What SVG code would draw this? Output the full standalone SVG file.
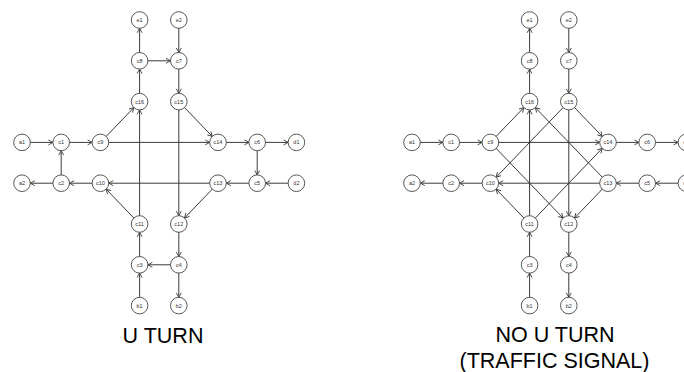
<svg xmlns="http://www.w3.org/2000/svg" width="684" height="372" viewBox="0 0 684 372">
<style>
.e{stroke:#3a3a3a;stroke-width:1;fill:none;marker-end:url(#ah)}
.n circle{fill:#fff;stroke:#444;stroke-width:0.9}
.n text{font-family:"Liberation Sans",Arial,sans-serif;font-size:5.5px;fill:#333;text-anchor:middle}
.cap{font-family:"Liberation Sans",Arial,sans-serif;font-size:21.5px;fill:#000;text-anchor:middle}
</style>
<defs>
<marker id="ah" markerUnits="userSpaceOnUse" markerWidth="20" markerHeight="20" refX="12.8" refY="2.5" orient="auto" overflow="visible">
<path d="M0,0 L4.5,2.5 L0,5" fill="none" stroke="#3a3a3a" stroke-width="0.9"/>
</marker>
</defs>
<rect width="684" height="372" fill="#fff"/>
<g id="connectors">
<!-- left -->
<line class="e" x1="178.8" y1="20" x2="178.8" y2="60.8"/>
<line class="e" x1="139.6" y1="60.8" x2="139.6" y2="20"/>
<line class="e" x1="139.6" y1="60.8" x2="178.8" y2="60.8"/>
<line class="e" x1="178.8" y1="60.8" x2="178.8" y2="101.6"/>
<line class="e" x1="139.6" y1="101.6" x2="139.6" y2="60.8"/>
<line class="e" x1="100.4" y1="142.4" x2="139.6" y2="101.6"/>
<line class="e" x1="139.6" y1="224" x2="139.6" y2="101.6"/>
<line class="e" x1="178.8" y1="101.6" x2="218" y2="142.4"/>
<line class="e" x1="178.8" y1="101.6" x2="178.8" y2="224"/>
<line class="e" x1="22" y1="142.4" x2="61.2" y2="142.4"/>
<line class="e" x1="61.2" y1="142.4" x2="100.4" y2="142.4"/>
<line class="e" x1="100.4" y1="142.4" x2="218" y2="142.4"/>
<line class="e" x1="218" y1="142.4" x2="257.2" y2="142.4"/>
<line class="e" x1="257.2" y1="142.4" x2="296.4" y2="142.4"/>
<line class="e" x1="257.2" y1="142.4" x2="257.2" y2="183.2"/>
<line class="e" x1="296.4" y1="183.2" x2="257.2" y2="183.2"/>
<line class="e" x1="257.2" y1="183.2" x2="218" y2="183.2"/>
<line class="e" x1="218" y1="183.2" x2="100.4" y2="183.2"/>
<line class="e" x1="100.4" y1="183.2" x2="61.2" y2="183.2"/>
<line class="e" x1="61.2" y1="183.2" x2="22" y2="183.2"/>
<line class="e" x1="61.2" y1="183.2" x2="61.2" y2="142.4"/>
<line class="e" x1="139.6" y1="224" x2="100.4" y2="183.2"/>
<line class="e" x1="218" y1="183.2" x2="178.8" y2="224"/>
<line class="e" x1="139.6" y1="264.8" x2="139.6" y2="224"/>
<line class="e" x1="139.6" y1="305.6" x2="139.6" y2="264.8"/>
<line class="e" x1="178.8" y1="264.8" x2="139.6" y2="264.8"/>
<line class="e" x1="178.8" y1="224" x2="178.8" y2="264.8"/>
<line class="e" x1="178.8" y1="264.8" x2="178.8" y2="305.6"/>
<!-- right -->
<line class="e" x1="568.8" y1="20" x2="568.8" y2="60.8"/>
<line class="e" x1="568.8" y1="60.8" x2="568.8" y2="101.6"/>
<line class="e" x1="529.6" y1="101.6" x2="529.6" y2="60.8"/>
<line class="e" x1="529.6" y1="60.8" x2="529.6" y2="20"/>
<line class="e" x1="412" y1="142.4" x2="451.2" y2="142.4"/>
<line class="e" x1="451.2" y1="142.4" x2="490.4" y2="142.4"/>
<line class="e" x1="490.4" y1="142.4" x2="608" y2="142.4"/>
<line class="e" x1="608" y1="142.4" x2="647.2" y2="142.4"/>
<line class="e" x1="647.2" y1="142.4" x2="686.4" y2="142.4"/>
<line class="e" x1="686.4" y1="183.2" x2="647.2" y2="183.2"/>
<line class="e" x1="647.2" y1="183.2" x2="608" y2="183.2"/>
<line class="e" x1="608" y1="183.2" x2="490.4" y2="183.2"/>
<line class="e" x1="490.4" y1="183.2" x2="451.2" y2="183.2"/>
<line class="e" x1="451.2" y1="183.2" x2="412" y2="183.2"/>
<line class="e" x1="529.6" y1="305.6" x2="529.6" y2="264.8"/>
<line class="e" x1="529.6" y1="264.8" x2="529.6" y2="224"/>
<line class="e" x1="568.8" y1="224" x2="568.8" y2="264.8"/>
<line class="e" x1="568.8" y1="264.8" x2="568.8" y2="305.6"/>
<line class="e" x1="529.6" y1="224" x2="529.6" y2="101.6"/>
<line class="e" x1="568.8" y1="101.6" x2="568.8" y2="224"/>
<line class="e" x1="490.4" y1="142.4" x2="529.6" y2="101.6"/>
<line class="e" x1="490.4" y1="142.4" x2="568.8" y2="224"/>
<line class="e" x1="568.8" y1="101.6" x2="608" y2="142.4"/>
<line class="e" x1="568.8" y1="101.6" x2="490.4" y2="183.2"/>
<line class="e" x1="529.6" y1="224" x2="490.4" y2="183.2"/>
<line class="e" x1="529.6" y1="224" x2="608" y2="142.4"/>
<line class="e" x1="608" y1="183.2" x2="568.8" y2="224"/>
<line class="e" x1="608" y1="183.2" x2="529.6" y2="101.6"/>
</g>
<!-- left nodes -->
<g id="L-e1" class="n"><circle cx="139.6" cy="20" r="8.3"/><text x="139.6" y="21.9">e1</text></g>
<g id="L-e2" class="n"><circle cx="178.8" cy="20" r="8.3"/><text x="178.8" y="21.9">e2</text></g>
<g id="L-c8" class="n"><circle cx="139.6" cy="60.8" r="8.3"/><text x="139.6" y="62.7">c8</text></g>
<g id="L-c7" class="n"><circle cx="178.8" cy="60.8" r="8.3"/><text x="178.8" y="62.7">c7</text></g>
<g id="L-c16" class="n"><circle cx="139.6" cy="101.6" r="8.3"/><text x="139.6" y="103.5">c16</text></g>
<g id="L-c15" class="n"><circle cx="178.8" cy="101.6" r="8.3"/><text x="178.8" y="103.5">c15</text></g>
<g id="L-a1" class="n"><circle cx="22" cy="142.4" r="8.3"/><text x="22" y="144.3">a1</text></g>
<g id="L-c1" class="n"><circle cx="61.2" cy="142.4" r="8.3"/><text x="61.2" y="144.3">c1</text></g>
<g id="L-c9" class="n"><circle cx="100.4" cy="142.4" r="8.3"/><text x="100.4" y="144.3">c9</text></g>
<g id="L-c14" class="n"><circle cx="218" cy="142.4" r="8.3"/><text x="218" y="144.3">c14</text></g>
<g id="L-c6" class="n"><circle cx="257.2" cy="142.4" r="8.3"/><text x="257.2" y="144.3">c6</text></g>
<g id="L-d1" class="n"><circle cx="296.4" cy="142.4" r="8.3"/><text x="296.4" y="144.3">d1</text></g>
<g id="L-a2" class="n"><circle cx="22" cy="183.2" r="8.3"/><text x="22" y="185.1">a2</text></g>
<g id="L-c2" class="n"><circle cx="61.2" cy="183.2" r="8.3"/><text x="61.2" y="185.1">c2</text></g>
<g id="L-c10" class="n"><circle cx="100.4" cy="183.2" r="8.3"/><text x="100.4" y="185.1">c10</text></g>
<g id="L-c13" class="n"><circle cx="218" cy="183.2" r="8.3"/><text x="218" y="185.1">c13</text></g>
<g id="L-c5" class="n"><circle cx="257.2" cy="183.2" r="8.3"/><text x="257.2" y="185.1">c5</text></g>
<g id="L-d2" class="n"><circle cx="296.4" cy="183.2" r="8.3"/><text x="296.4" y="185.1">d2</text></g>
<g id="L-c11" class="n"><circle cx="139.6" cy="224" r="8.3"/><text x="139.6" y="225.9">c11</text></g>
<g id="L-c12" class="n"><circle cx="178.8" cy="224" r="8.3"/><text x="178.8" y="225.9">c12</text></g>
<g id="L-c3" class="n"><circle cx="139.6" cy="264.8" r="8.3"/><text x="139.6" y="266.7">c3</text></g>
<g id="L-c4" class="n"><circle cx="178.8" cy="264.8" r="8.3"/><text x="178.8" y="266.7">c4</text></g>
<g id="L-b1" class="n"><circle cx="139.6" cy="305.6" r="8.3"/><text x="139.6" y="307.5">b1</text></g>
<g id="L-b2" class="n"><circle cx="178.8" cy="305.6" r="8.3"/><text x="178.8" y="307.5">b2</text></g>
<!-- right nodes -->
<g id="R-e1" class="n"><circle cx="529.6" cy="20" r="8.3"/><text x="529.6" y="21.9">e1</text></g>
<g id="R-e2" class="n"><circle cx="568.8" cy="20" r="8.3"/><text x="568.8" y="21.9">e2</text></g>
<g id="R-c8" class="n"><circle cx="529.6" cy="60.8" r="8.3"/><text x="529.6" y="62.7">c8</text></g>
<g id="R-c7" class="n"><circle cx="568.8" cy="60.8" r="8.3"/><text x="568.8" y="62.7">c7</text></g>
<g id="R-c16" class="n"><circle cx="529.6" cy="101.6" r="8.3"/><text x="529.6" y="103.5">c16</text></g>
<g id="R-c15" class="n"><circle cx="568.8" cy="101.6" r="8.3"/><text x="568.8" y="103.5">c15</text></g>
<g id="R-a1" class="n"><circle cx="412" cy="142.4" r="8.3"/><text x="412" y="144.3">a1</text></g>
<g id="R-c1" class="n"><circle cx="451.2" cy="142.4" r="8.3"/><text x="451.2" y="144.3">c1</text></g>
<g id="R-c9" class="n"><circle cx="490.4" cy="142.4" r="8.3"/><text x="490.4" y="144.3">c9</text></g>
<g id="R-c14" class="n"><circle cx="608" cy="142.4" r="8.3"/><text x="608" y="144.3">c14</text></g>
<g id="R-c6" class="n"><circle cx="647.2" cy="142.4" r="8.3"/><text x="647.2" y="144.3">c6</text></g>
<g id="R-d1" class="n"><circle cx="686.4" cy="142.4" r="8.3"/><text x="686.4" y="144.3">d1</text></g>
<g id="R-a2" class="n"><circle cx="412" cy="183.2" r="8.3"/><text x="412" y="185.1">a2</text></g>
<g id="R-c2" class="n"><circle cx="451.2" cy="183.2" r="8.3"/><text x="451.2" y="185.1">c2</text></g>
<g id="R-c10" class="n"><circle cx="490.4" cy="183.2" r="8.3"/><text x="490.4" y="185.1">c10</text></g>
<g id="R-c13" class="n"><circle cx="608" cy="183.2" r="8.3"/><text x="608" y="185.1">c13</text></g>
<g id="R-c5" class="n"><circle cx="647.2" cy="183.2" r="8.3"/><text x="647.2" y="185.1">c5</text></g>
<g id="R-d2" class="n"><circle cx="686.4" cy="183.2" r="8.3"/><text x="686.4" y="185.1">d2</text></g>
<g id="R-c11" class="n"><circle cx="529.6" cy="224" r="8.3"/><text x="529.6" y="225.9">c11</text></g>
<g id="R-c12" class="n"><circle cx="568.8" cy="224" r="8.3"/><text x="568.8" y="225.9">c12</text></g>
<g id="R-c3" class="n"><circle cx="529.6" cy="264.8" r="8.3"/><text x="529.6" y="266.7">c3</text></g>
<g id="R-c4" class="n"><circle cx="568.8" cy="264.8" r="8.3"/><text x="568.8" y="266.7">c4</text></g>
<g id="R-b1" class="n"><circle cx="529.6" cy="305.6" r="8.3"/><text x="529.6" y="307.5">b1</text></g>
<g id="R-b2" class="n"><circle cx="568.8" cy="305.6" r="8.3"/><text x="568.8" y="307.5">b2</text></g>
<g id="captions">
<text class="cap" x="163" y="343.3">U TURN</text>
<text class="cap" x="555" y="342.3">NO U TURN</text>
<text class="cap" x="554.5" y="368.3">(TRAFFIC SIGNAL)</text>
</g>
</svg>
